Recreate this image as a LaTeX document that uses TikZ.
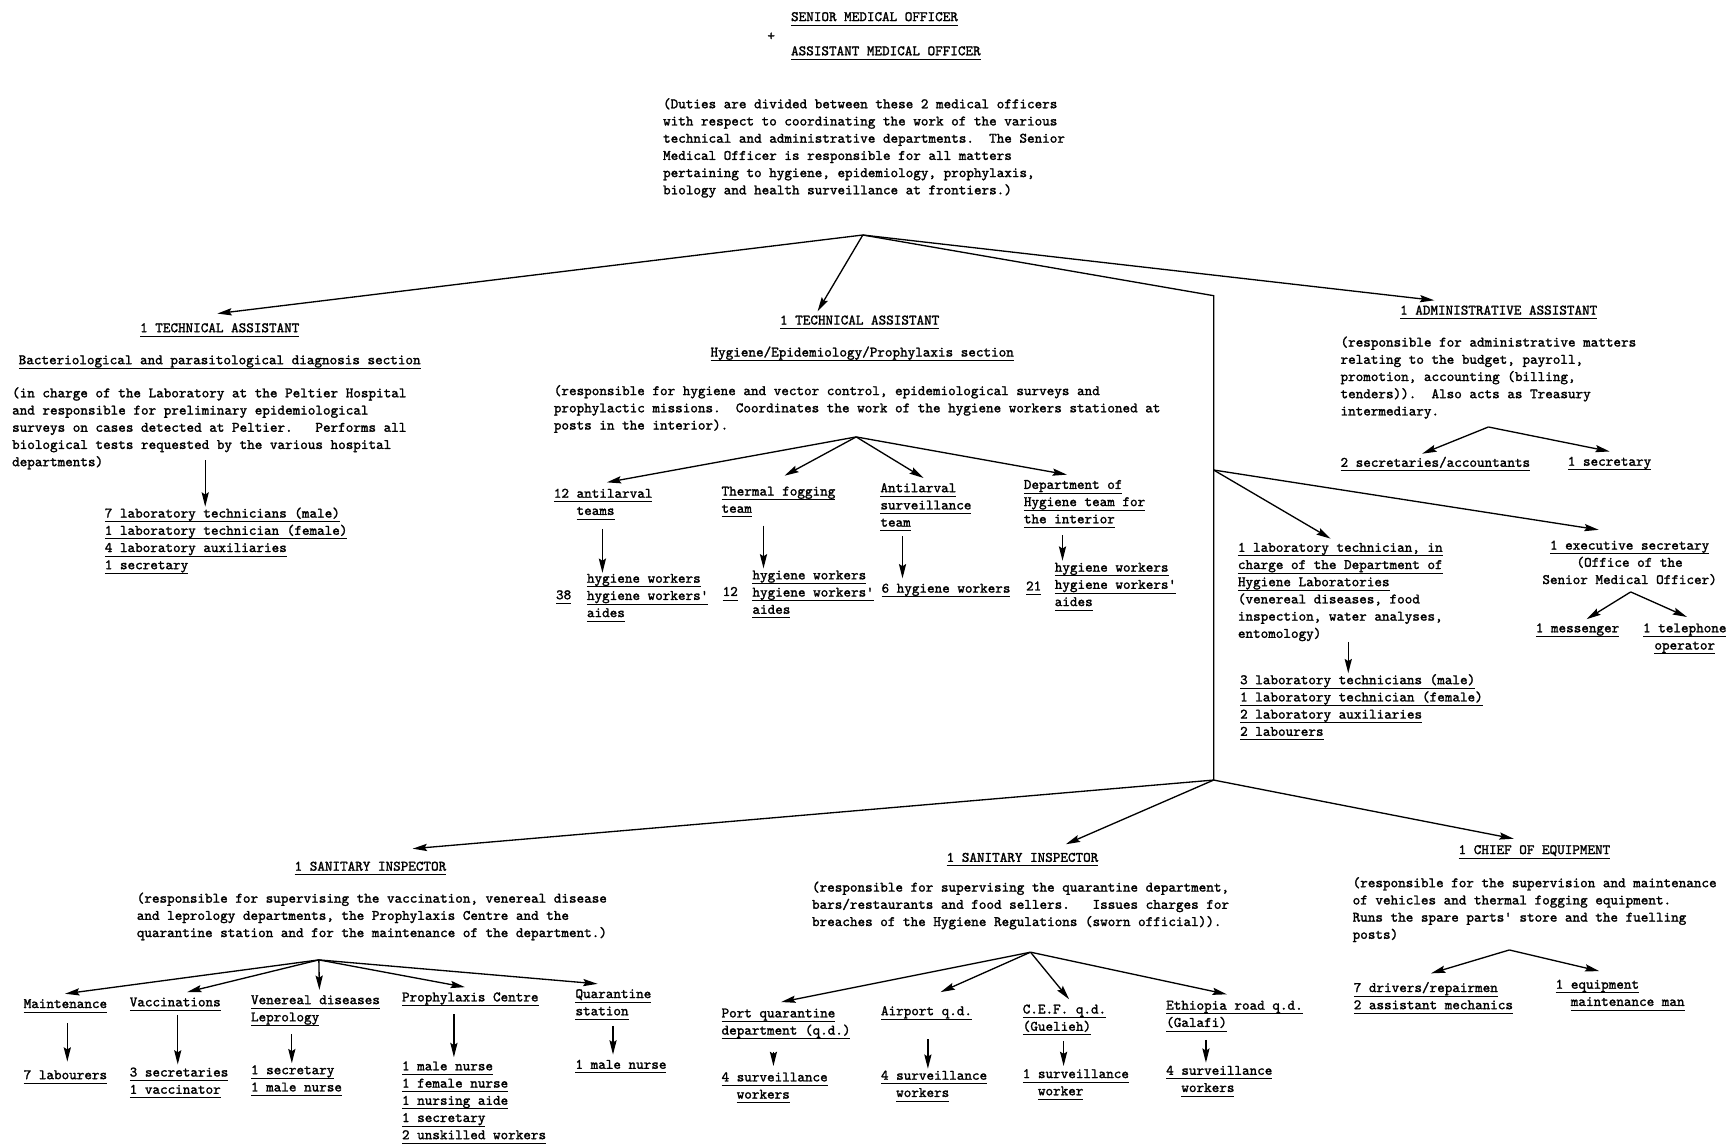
\documentclass[tikz,border=0pt]{standalone}
\usepackage{fontspec}
\newfontfamily\typer{lmmono10-regular.otf}[FakeBold=1.6]
\usetikzlibrary{arrows.meta,calc}
\newsavebox\ulbox
\newlength\chw
\setlength\chw{6.87pt}
\newcommand\ulin[1]{\strut\sbox\ulbox{#1}\rlap{\rule[-4.2pt]{\wd\ulbox}{0.9pt}}\usebox\ulbox}
\newcommand\chsp[1]{\hspace*{#1\chw}}
\frenchspacing
\begin{document}
\begin{tikzpicture}[
        x=1pt, y=-1pt,
        font=\typer\fontsize{13.09}{15.6}\selectfont,
        txt/.style={
            anchor=north west, inner sep=0pt, outer sep=0pt,
            align=left, yshift=7.8pt
        },
        txtc/.style={
            anchor=north, inner sep=0pt, outer sep=0pt,
            align=center, yshift=7.8pt
        },
        link/.style={line width=1.2pt},
        arr/.style={-{Stealth[length=13pt,width=6.5pt,inset=2pt]}, line width=1.2pt}
    ]
    \useasboundingbox (0,0) rectangle (1568,1036);

    % Medical officers at the top
    \node[txt] (smo) at (717,16) {\ulin{SENIOR MEDICAL OFFICER}};
    \node[inner sep=0pt] (plus) at (699,33) {+};
    \node[txt] (amo) at (717,47) {\ulin{ASSISTANT MEDICAL OFFICER}};
    \node[txt] (duties) at (601,95) {\strut(Duties are divided between these 2 medical officers\\
        with respect to coordinating the work of the various\\
        technical and administrative departments.~ The Senior\\
        Medical Officer is responsible for all matters\\
        pertaining to hygiene, epidemiology, prophylaxis,\\
        biology and health surveillance at frontiers.)};

    % Laboratory section on the left
    \node[txt] (lta) at (127,298) {\ulin{1 TECHNICAL ASSISTANT}};
    \node[txt] (lsec) at (17,327) {\ulin{Bacteriological and parasitological diagnosis section}};
    \node[txt] (lpara) at (11,357) {\strut(in charge of the Laboratory at the Peltier Hospital\\
        and responsible for preliminary epidemiological\\
        surveys on cases detected at Peltier.~~ Performs all\\
        biological tests requested by the various hospital\\
        departments)\strut};
    \node[txt] (lstaff) at (95,466) {\ulin{7 laboratory technicians (male)}\\
        \ulin{1 laboratory technician (female)}\\
        \ulin{4 laboratory auxiliaries}\\
        \ulin{1 secretary}};

    % Hygiene section in the middle
    \node[txt] (mta) at (707,291) {\ulin{1 TECHNICAL ASSISTANT}};
    \node[txt] (msec) at (644,320) {\ulin{Hygiene/Epidemiology/Prophylaxis section}};
    \node[txt] (mpara) at (502,355) {\strut(responsible for hygiene and vector control, epidemiological surveys and\\
        prophylactic missions.~ Coordinates the work of the hygiene workers stationed at\\
        posts in the interior).};

    \node[txt] (hyA) at (502,448) {\ulin{12 antilarval}\\\chsp{3}\ulin{teams}};
    \node[txt] (hyB) at (654,446) {\ulin{Thermal fogging}\\\ulin{team}};
    \node[txt] (hyC) at (798,443) {\ulin{Antilarval}\\\ulin{surveillance}\\\ulin{team}};
    \node[txt] (hyD) at (928,440) {\ulin{Department of}\\\ulin{Hygiene team for}\\\ulin{the interior}};

    \node[txt] (nA) at (504,540) {\ulin{38}};
    \node[txt] (wA) at (532,525) {\ulin{hygiene workers}\\\ulin{hygiene workers'}\\\ulin{aides}};
    \node[txt] (nB) at (655,537) {\ulin{12}};
    \node[txt] (wB) at (682,522) {\ulin{hygiene workers}\\\ulin{hygiene workers'}\\\ulin{aides}};
    \node[txt] (wC) at (799,534) {\ulin{6 hygiene workers}};
    \node[txt] (nD) at (930,532) {\ulin{21}};
    \node[txt] (wD) at (956,515) {\ulin{hygiene workers}\\\ulin{hygiene workers'}\\\ulin{aides}};

    % Administration on the right
    \node[txt] (ada) at (1269,282) {\ulin{1 ADMINISTRATIVE ASSISTANT}};
    \node[txt] (apara) at (1215,311) {\strut(responsible for administrative matters\\
        relating to the budget, payroll,\\
        promotion, accounting (billing,\\
        tenders)).~ Also acts as Treasury\\
        intermediary.};
    \node[txt] (asec) at (1215,420) {\ulin{2 secretaries/accountants}};
    \node[txt] (asecb) at (1421,419) {\ulin{1 secretary}};

    % Hygiene laboratories and office
    \node[txt] (labt) at (1122,497) {\ulin{1 laboratory technician, in}\\
        \ulin{charge of the Department of}\\
        \ulin{Hygiene Laboratories}\\
        (venereal diseases, food\\
        inspection, water analyses,\\
        entomology)\strut};
    \node[txt] (labs) at (1124,617) {\ulin{3 laboratory technicians (male)}\\
        \ulin{1 laboratory technician (female)}\\
        \ulin{2 laboratory auxiliaries}\\
        \ulin{2 labourers}};
    \node[txtc] (exs) at (1477,495) {\ulin{1 executive secretary}\\(Office of the\\Senior Medical Officer)};
    \node[txt] (mess) at (1392,570) {\ulin{1 messenger}};
    \node[txtc] (tel) at (1527,570) {\ulin{1 telephone}\\\ulin{operator}};

    % First sanitary inspector
    \node[txt] (lsi) at (267,786) {\ulin{1 SANITARY INSPECTOR}};
    \node[txt] (lspara) at (124,815) {\strut(responsible for supervising the vaccination, venereal disease\\
        and leprology departments, the Prophylaxis Centre and the\\
        quarantine station and for the maintenance of the department.)};
    \node[txt] (dpA) at (21.5,910.5) {\ulin{Maintenance}};
    \node[txt] (dpB) at (117.6,909) {\ulin{Vaccinations}};
    \node[txt] (dpC) at (227.5,907) {\ulin{Venereal diseases}\\\ulin{Leprology}};
    \node[txt] (dpD) at (364.4,904.5) {\ulin{Prophylaxis Centre}};
    \node[txt] (dpE) at (521.6,901.5) {\ulin{Quarantine}\\\ulin{station}};
    \node[txt] (stA) at (21.5,975) {\ulin{7 labourers}};
    \node[txt] (stB) at (117.6,972.6) {\ulin{3 secretaries}\\\ulin{1 vaccinator}};
    \node[txt] (stC) at (227.5,970.5) {\ulin{1 secretary}\\\ulin{1 male nurse}};
    \node[txt] (stD) at (364.4,967) {\ulin{1 male nurse}\\\ulin{1 female nurse}\\\ulin{1 nursing aide}\\\ulin{1 secretary}\\\ulin{2 unskilled workers}};
    \node[txt] (stE) at (521.6,965.6) {\ulin{1 male nurse}};

    % Second sanitary inspector
    \node[txt] (msi) at (858,778) {\ulin{1 SANITARY INSPECTOR}};
    \node[txt] (mspara) at (736,805) {\strut(responsible for supervising the quarantine department,\\
        bars/restaurants and food sellers.~~ Issues charges for\\
        breaches of the Hygiene Regulations (sworn official)).};
    \node[txt] (qdA) at (654,919) {\ulin{Port quarantine}\\\ulin{department (q.d.)}};
    \node[txt] (qdB) at (798.5,917) {\ulin{Airport q.d.}};
    \node[txt] (qdC) at (927,915.5) {\ulin{C.E.F. q.d.}\\\ulin{(Guelieh)}};
    \node[txt] (qdD) at (1057,912) {\ulin{Ethiopia road q.d.}\\\ulin{(Galafi)}};
    \node[txt] (svA) at (654,977) {\ulin{4 surveillance}\\\chsp{2}\ulin{workers}};
    \node[txt] (svB) at (798.5,975.5) {\ulin{4 surveillance}\\\chsp{2}\ulin{workers}};
    \node[txt] (svC) at (927,974) {\ulin{1 surveillance}\\\chsp{2}\ulin{worker}};
    \node[txt] (svD) at (1057,971) {\ulin{4 surveillance}\\\chsp{2}\ulin{workers}};

    % Equipment
    \node[txt] (coe) at (1322,771) {\ulin{1 CHIEF OF EQUIPMENT}};
    \node[txt] (cpara) at (1226,801) {\strut(responsible for the supervision and maintenance\\
        of vehicles and thermal fogging equipment.\\
        Runs the spare parts' store and the fuelling\\
        posts)};
    \node[txt] (eqA) at (1227,896) {\ulin{7 drivers/repairmen}\\\ulin{2 assistant mechanics}};
    \node[txt] (eqB) at (1410,893) {\ulin{1 equipment}\\\chsp{2}\ulin{maintenance man}};

    % Branch points
    \coordinate (top) at (782,213);
    \coordinate (bend) at (1100,268);
    \coordinate (fork) at (1100,426);
    \coordinate (low) at (1100,707);
    \coordinate (hyfork) at (776,396);
    \coordinate (adfork) at (1349,387);
    \coordinate (exfork) at (1478,536.5);
    \coordinate (sifork) at (289,870);
    \coordinate (qdfork) at (934,863);
    \coordinate (eqfork) at (1368,861);

    % Arrows from the medical officers
    \draw[arr] (top) -- ($(lta.north west)+(70,-6)$);
    \draw[arr] (top) -- ($(mta.north west)+(34,-1)$);
    \draw[arr] (top) -- ($(ada.north west)+(31,-2)$);
    \draw[link] (top) -- (bend) -- (low);
    \draw[arr] (fork) -- ($(labt.north west)+(84,-1)$);
    \draw[arr] (fork) -- ($(exs.north)+(-28,-7)$);
    \draw[arr] (low) -- ($(lsi.north west)+(107,-9)$);
    \draw[arr] (low) -- ($(msi.north west)+(108,-5)$);
    \draw[arr] (low) -- ($(coe.north west)+(50,-3)$);

    % Laboratory and hygiene teams
    \draw[arr] ($(lpara.south west)+(175,-10)$) -- ($(lstaff.north west)+(91,1)$);
    \draw[arr] (hyfork) -- ($(hyA.north west)+(48,-3)$);
    \draw[arr] (hyfork) -- ($(hyB.north west)+(57,-7)$);
    \draw[arr] (hyfork) -- ($(hyC.north west)+(39,-2)$);
    \draw[arr] (hyfork) -- ($(hyD.north west)+(39,-2)$);
    \draw[arr] ($(hyA.south west)+(44,8)$) -- ($(wA.north west)+(14,2)$);
    \draw[arr] ($(hyB.south west)+(38,7)$) -- ($(wB.north west)+(10,1)$);
    \draw[arr] ($(hyC.south west)+(20,4)$) -- ($(wC.north west)+(19,-2)$);
    \draw[arr] ($(hyD.south west)+(35,6)$) -- ($(wD.north west)+(7,1)$);

    % Administration and office
    \draw[arr] (adfork) -- ($(asec.north west)+(74,-1)$);
    \draw[arr] (adfork) -- ($(asecb.north west)+(38,-2)$);
    \draw[arr] ($(labt.south west)+(100,-1)$) -- ($(labs.north west)+(98,1)$);
    \draw[arr] (exfork) -- ($(mess.north west)+(46,-1)$);
    \draw[arr] (exfork) -- ($(tel.north)+(2,-3)$);

    % First sanitary inspector's departments
    \draw[arr] (sifork) -- ($(dpA.north west)+(37.5,-2)$);
    \draw[arr] (sifork) -- ($(dpB.north west)+(52,-2)$);
    \draw[arr] (sifork) -- ($(dpC.north west)+(62,-2)$);
    \draw[arr] (sifork) -- ($(dpD.north west)+(57,-2)$);
    \draw[arr] (sifork) -- ($(dpE.north west)+(20,-2)$);
    \draw[arr] ($(dpA.south west)+(39.5,9)$) -- ($(stA.north west)+(39.5,-5)$);
    \draw[arr] ($(dpB.south west)+(43.5,3)$) -- ($(stB.north west)+(43.5,0)$);
    \draw[arr] ($(dpC.south west)+(37,7)$) -- ($(stC.north west)+(37,1)$);
    \draw[arr] ($(dpD.south west)+(47,7)$) -- ($(stD.north west)+(47,-1)$);
    \draw[arr] ($(dpE.south west)+(34,5)$) -- ($(stE.north west)+(34,-2)$);

    % Quarantine departments
    \draw[arr] (qdfork) -- ($(qdA.north west)+(54,-3)$);
    \draw[arr] (qdfork) -- ($(qdB.north west)+(54,-10)$);
    \draw[arr] (qdfork) -- ($(qdC.north west)+(42,-2)$);
    \draw[arr] (qdfork) -- ($(qdD.north west)+(55,-3)$);
    \draw[arr] ($(qdA.south west)+(47,11)$) -- ($(svA.north west)+(47,-3)$);
    \draw[arr] ($(qdB.south west)+(42.5,17)$) -- ($(svB.north west)+(42.5,1)$);
    \draw[arr] ($(qdC.south west)+(37,5)$) -- ($(svC.north west)+(37,0)$);
    \draw[arr] ($(qdD.south west)+(36,7)$) -- ($(svD.north west)+(36,0)$);

    % Equipment staff
    \draw[arr] (eqfork) -- ($(eqA.north west)+(70,-6)$);
    \draw[arr] (eqfork) -- ($(eqB.north west)+(39.5,-5)$);

\end{tikzpicture}
\end{document}
